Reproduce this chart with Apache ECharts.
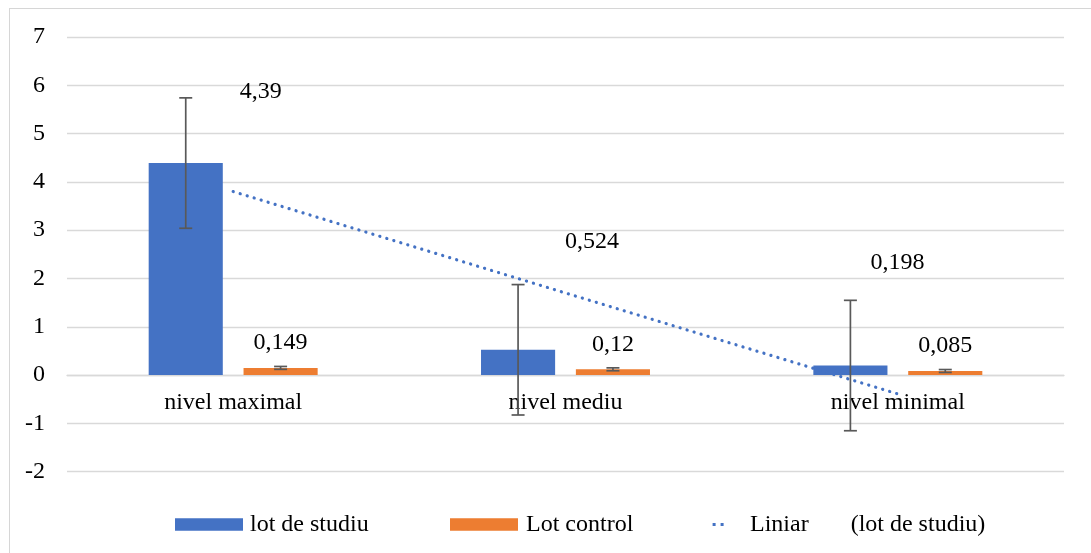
<!DOCTYPE html>
<html>
<head>
<meta charset="utf-8">
<script src="https://cdn.jsdelivr.net/npm/echarts@6/dist/echarts.min.js"></script>
<style>
  html, body { margin: 0; padding: 0; background: #ffffff; overflow: hidden; }
  #frame { position: absolute; left: 9px; top: 8px; width: 1200px; height: 700px; border: 1px solid #d6d6d6; box-sizing: border-box; }
  #chart { position: absolute; left: 0; top: 0; width: 1091px; height: 553px; }
</style>
</head>
<body>
<div id="frame"></div>
<div id="chart"></div>
<script>
// Categories and series values
const categories = ['nivel maximal', 'nivel mediu', 'nivel minimal'];
const studyValues = [4.39, 0.524, 0.198];
const controlValues = [0.149, 0.12, 0.085];
// Error amounts (±) for each bar
const studyErrors = [1.35, 1.35, 1.35];
const controlErrors = [0.03, 0.03, 0.03];
// Linear trend of the study group, at each category
const trendValues = [3.80, 1.70, -0.39];
// Value axis ticks
const yMin = -2, yMax = 7, yStep = 1;

const seriesNames = ['lot de studiu', 'Lot control', 'Liniar       (lot de studiu)'];

// Styling
const FONT = "'Liberation Serif', 'Times New Roman', serif";
const BLUE = '#4472C4';
const ORANGE = '#ED7D31';
const ERR_COLOR = '#595959';
const BAR_FRAC = 0.223;
const GAP_FRAC = 0.28;
const GRID = { left: 67, right: 27, top: 37, bottom: 81.3 };
const CHART_H = 553;
// Hand-placed data label shifts for the study bars
const studyLabelShift = [[75, -54], [74, -91], [47, -86]];

const fmt = v => String(v).replace('.', ',');

// Category axis sits on the zero line: shift it up from the grid bottom
const plotH = CHART_H - GRID.top - GRID.bottom;
const zeroShift = plotH * (0 - yMin) / (yMax - yMin);

function errorBars(values, errors) {
  return values.map((v, i) => [i, v, errors[i]]);
}

function errorRenderer(side) {
  return function (params, api) {
    const idx = api.value(0);
    const v = api.value(1);
    const e = api.value(2);
    const band = api.size([1, 0])[0];
    const barW = band * BAR_FRAC;
    const shift = side * barW * (1 + GAP_FRAC) / 2;
    const hi = api.coord([idx, v + e]);
    const lo = api.coord([idx, v - e]);
    const x = hi[0] + shift;
    const hw = 6.5;
    const style = { stroke: ERR_COLOR, lineWidth: 1.7 };
    return {
      type: 'group',
      children: [
        { type: 'line', shape: { x1: x, y1: hi[1], x2: x, y2: lo[1] }, style },
        { type: 'line', shape: { x1: x - hw, y1: hi[1], x2: x + hw, y2: hi[1] }, style },
        { type: 'line', shape: { x1: x - hw, y1: lo[1], x2: x + hw, y2: lo[1] }, style }
      ]
    };
  };
}

const chart = echarts.init(document.getElementById('chart'), null, { renderer: 'canvas' });

const legendText = { fontFamily: FONT, fontSize: 24, color: '#000' };

chart.setOption({
  animation: false,
  backgroundColor: 'transparent',
  textStyle: { fontFamily: FONT },
  grid: Object.assign({ containLabel: false }, GRID),
  legend: [
    {
      data: [{ name: seriesNames[0], icon: 'rect' }],
      left: 175, top: 512.5, padding: 0,
      itemWidth: 68, itemHeight: 12.5,
      textStyle: Object.assign({ padding: [0, 0, 0, 2] }, legendText),
      selectedMode: false
    },
    {
      data: [{ name: seriesNames[1], icon: 'rect' }],
      left: 450, top: 512.5, padding: 0,
      itemWidth: 68, itemHeight: 12.5,
      textStyle: Object.assign({ padding: [0, 0, 0, 3] }, legendText),
      selectedMode: false
    },
    {
      data: [{
        name: seriesNames[2],
        icon: 'path://M0,0M40,12.5M7.6,4.7h3v3h-3zM15.6,4.7h3v3h-3z',
        itemStyle: { color: BLUE, borderWidth: 0 }
      }],
      left: 705, top: 512.5, padding: 0,
      itemWidth: 40, itemHeight: 12.5,
      textStyle: legendText,
      selectedMode: false
    }
  ],
  xAxis: {
    type: 'category',
    data: categories,
    offset: -zeroShift,
    axisLine: { show: true, onZero: false, lineStyle: { color: '#d9d9d9', width: 1.3 } },
    axisTick: { show: false },
    axisLabel: { fontFamily: FONT, fontSize: 24, color: '#000', margin: 16 },
    splitLine: { show: false }
  },
  yAxis: {
    type: 'value',
    min: yMin, max: yMax, interval: yStep,
    axisLine: { show: false },
    axisTick: { show: false },
    axisLabel: { fontFamily: FONT, fontSize: 24, color: '#000', margin: 22 },
    splitLine: { lineStyle: { color: '#d9d9d9', width: 1.3 } }
  },
  series: [
    {
      name: seriesNames[0],
      type: 'bar',
      barWidth: (BAR_FRAC * 100) + '%',
      barGap: (GAP_FRAC * 100) + '%',
      itemStyle: { color: BLUE },
      z: 2,
      data: studyValues.map((v, i) => ({
        value: v,
        label: { offset: studyLabelShift[i] }
      })),
      label: {
        show: true, position: 'top', distance: 5,
        fontFamily: FONT, fontSize: 24, color: '#000',
        formatter: p => fmt(p.value)
      }
    },
    {
      name: seriesNames[1],
      type: 'bar',
      barWidth: (BAR_FRAC * 100) + '%',
      barGap: (GAP_FRAC * 100) + '%',
      itemStyle: { color: ORANGE },
      z: 2,
      data: controlValues,
      label: {
        show: true, position: 'top', distance: 13,
        fontFamily: FONT, fontSize: 24, color: '#000',
        formatter: p => fmt(p.value)
      }
    },
    {
      name: 'err-study',
      type: 'custom',
      renderItem: errorRenderer(-1),
      encode: { x: 0, y: 1 },
      data: errorBars(studyValues, studyErrors),
      z: 3,
      silent: true
    },
    {
      name: 'err-control',
      type: 'custom',
      renderItem: errorRenderer(1),
      encode: { x: 0, y: 1 },
      data: errorBars(controlValues, controlErrors),
      z: 3,
      silent: true
    },
    {
      name: seriesNames[2],
      type: 'line',
      data: trendValues,
      symbol: 'none',
      itemStyle: { color: BLUE },
      lineStyle: { color: BLUE, width: 3.2, type: [0.1, 7.2], cap: 'round' },
      z: 4,
      silent: true
    }
  ]
});
</script>
</body>
</html>
